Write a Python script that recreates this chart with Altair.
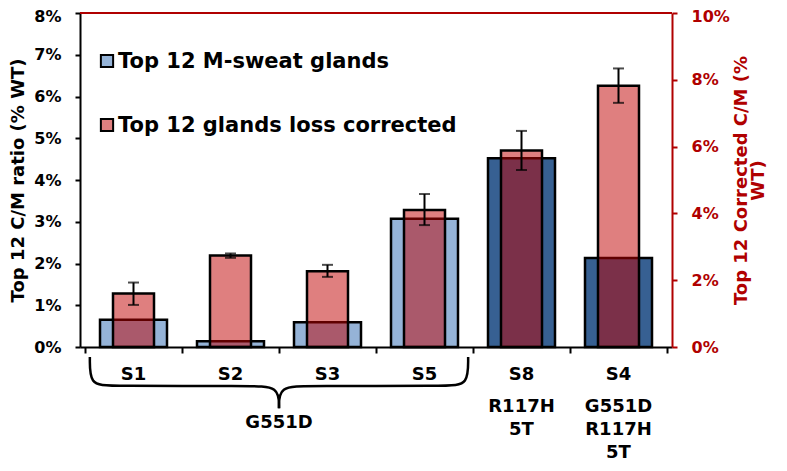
import altair as alt
import pandas as pd

# ---------------- data ----------------
samples = ["S1", "S2", "S3", "S5", "S8", "S4"]
mutation = ["G551D", "G551D", "G551D", "G551D", "R117H\n5T", "G551D\nR117H\n5T"]
msweat = [0.65, 0.14, 0.59, 3.07, 4.52, 2.13]          # left axis, % WT
corrected = [1.60, 2.74, 2.27, 4.10, 5.88, 7.82]       # right axis, % WT
err_lo = [1.26, 2.67, 2.10, 3.65, 5.30, 7.31]
err_hi = [1.93, 2.80, 2.46, 4.58, 6.47, 8.34]
legend_labels = ["Top 12 M-sweat glands", "Top 12 glands loss corrected"]
group_label = "G551D"
left_ticks = [0, 1, 2, 3, 4, 5, 6, 7, 8]
right_ticks = [0, 2, 4, 6, 8, 10]

FONT = "DejaVu Sans"
RED = "#B00000"
BAR_RED = "#C00000"
LIGHT_BLUE = "#95B3D7"
DARK_BLUE = "#376092"

pos = [i + 0.5 for i in range(len(samples))]
df = pd.DataFrame({
    "sample": samples, "pos": pos, "blue": msweat, "red": corrected,
    "lo": err_lo, "hi": err_hi,
    "sub": ["" if m == group_label else m for m in mutation],
    "kind": ["single" if m == group_label else "double" for m in mutation],
})

# brace under the samples sharing the group label (in axis units)
grp = [p for p, m in zip(pos, mutation) if m == group_label]
b0, b1 = grp[0] - 0.45, grp[-1] + 0.45
mid = (b0 + b1) / 2
brace_rows = []
for half, (a, s) in enumerate([(b0, 1), (b1, -1)]):
    pts = [(a, -0.24), (a, -0.91), (a + s * 0.2, -0.935),
           (mid - s * 0.3, -0.935), (mid, -0.935), (mid, -1.47)]
    for k, (bx, byv) in enumerate(pts):
        brace_rows.append({"bx": bx, "by": byv, "half": half, "k": k})
brace_df = pd.DataFrame(brace_rows)
grp_df = pd.DataFrame({"gx": [mid], "glab": [group_label]})

# ---------------- encodings ----------------
x_axis = alt.Axis(values=list(range(len(samples) + 1)), labels=False, title=None,
                  tickSize=6, tickWidth=2, domainWidth=2, domainColor="black",
                  tickColor="black", grid=False)
x_scale = alt.Scale(domain=[0, len(samples)], nice=False, zero=False)

left_axis = alt.Axis(values=left_ticks, labelExpr="datum.value + '%'",
                     title="Top 12 C/M ratio (% WT)", titleFont=FONT, titleFontSize=18,
                     titleFontWeight="bold", titleColor="black", titlePadding=6,
                     labelFont=FONT, labelFontSize=16, labelFontWeight="bold",
                     labelColor="black", labelPadding=14, tickSize=5, tickWidth=2,
                     labelOffset={"condition": {"test": "datum.value == 8", "value": 3}, "value": 0},
                     tickColor="black", domainColor="black", domainWidth=2, grid=False)
left_scale = alt.Scale(domain=[0, 8], nice=False)

right_axis = alt.Axis(orient="right", values=right_ticks, labelExpr="datum.value + '%'",
                      title=["Top 12 Corrected C/M (%", "WT)"], titleAngle=270,
                      titleFont=FONT, titleFontSize=18, titleFontWeight="bold",
                      titleColor=RED, titlePadding=4, titleLineHeight=17,
                      labelFont=FONT, labelFontSize=16, labelFontWeight="bold",
                      labelColor=RED, labelPadding=14, tickSize=5, tickWidth=2,
                      labelOffset={"condition": {"test": "datum.value == 10", "value": 3}, "value": 0},
                      tickColor=RED, domainColor=RED, domainWidth=2, grid=False)
right_scale = alt.Scale(domain=[0, 10], nice=False)

base = alt.Chart(df)

blue_bars = base.mark_bar(size=67, stroke="black", strokeWidth=2.5).encode(
    x=alt.X("pos:Q", scale=x_scale, axis=x_axis),
    y=alt.Y("blue:Q", scale=left_scale, axis=left_axis),
    color=alt.Color("kind:N", scale=alt.Scale(domain=["single", "double"],
                                              range=[LIGHT_BLUE, DARK_BLUE]), legend=None),
)

brace = alt.Chart(brace_df).mark_line(color="black", strokeWidth=2.5, interpolate="basis").encode(
    x=alt.X("bx:Q", scale=x_scale, axis=x_axis),
    y=alt.Y("by:Q", scale=left_scale, axis=left_axis),
    detail="half:N",
    order="k:Q",
)

left = alt.layer(blue_bars, brace)

red_bars = base.mark_bar(size=41, color=BAR_RED, fillOpacity=0.5, stroke="black",
                         strokeOpacity=1, strokeWidth=2.5).encode(
    x=alt.X("pos:Q", scale=x_scale, axis=x_axis),
    y=alt.Y("red:Q", scale=right_scale, axis=right_axis),
)
err_rule = base.mark_rule(color="black", strokeWidth=2).encode(
    x=alt.X("pos:Q", scale=x_scale, axis=x_axis),
    y=alt.Y("lo:Q", scale=right_scale, axis=right_axis),
    y2="hi:Q",
)
cap_lo = base.mark_tick(color="black", orient="horizontal", size=11, thickness=2).encode(
    x=alt.X("pos:Q", scale=x_scale, axis=x_axis),
    y=alt.Y("lo:Q", scale=right_scale, axis=right_axis),
)
cap_hi = base.mark_tick(color="black", orient="horizontal", size=11, thickness=2).encode(
    x=alt.X("pos:Q", scale=x_scale, axis=x_axis),
    y=alt.Y("hi:Q", scale=right_scale, axis=right_axis),
)
top_line = base.mark_rule(color=RED, strokeWidth=1.5).encode(
    y=alt.Y(datum=10, scale=right_scale, axis=right_axis),
)

right = alt.layer(red_bars, err_rule, cap_lo, cap_hi, top_line)

# category labels
cat_text = base.mark_text(font=FONT, fontSize=18, fontWeight="bold", baseline="alphabetic",
                          color="black").encode(
    x=alt.X("pos:Q", scale=x_scale, axis=x_axis), y=alt.value(366.5), text="sample:N")
sub_text = base.mark_text(font=FONT, fontSize=18, fontWeight="bold", baseline="alphabetic",
                          color="black", lineBreak="\n", lineHeight=23).encode(
    x=alt.X("pos:Q", scale=x_scale, axis=x_axis), y=alt.value(399), text="sub:N")
grp_text = alt.Chart(grp_df).mark_text(font=FONT, fontSize=18, fontWeight="bold",
                                       baseline="alphabetic", color="black").encode(
    x=alt.X("gx:Q", scale=x_scale, axis=x_axis), y=alt.value(414.5), text="glab:N")

# legend
leg_layers = []
leg_colors = [LIGHT_BLUE, "#E08080"]
for i, (lab, col) in enumerate(zip(legend_labels, leg_colors)):
    yy = 48 + i * 64
    leg_layers.append(alt.Chart(grp_df).mark_square(size=150, color=col, filled=True,
                                                    stroke="black", strokeWidth=2, opacity=1).encode(
        x=alt.value(27), y=alt.value(yy)))
    leg_layers.append(alt.Chart(grp_df).mark_text(font=FONT, fontSize=21, fontWeight="bold",
                                                  align="left", baseline="middle", color="black").encode(
        x=alt.value(38), y=alt.value(yy + 1), text=alt.datum(lab)))

chart = alt.layer(left, right, cat_text, sub_text, grp_text, *leg_layers).resolve_scale(
    y="independent"
).properties(
    width=592, height=334,
    autosize=alt.AutoSizeParams(type="none"),
    padding={"left": 72, "top": 5, "right": 107, "bottom": 116},
).configure_view(stroke=None)

chart.save("out.html", embed_options={"renderer": "svg", "actions": False})
